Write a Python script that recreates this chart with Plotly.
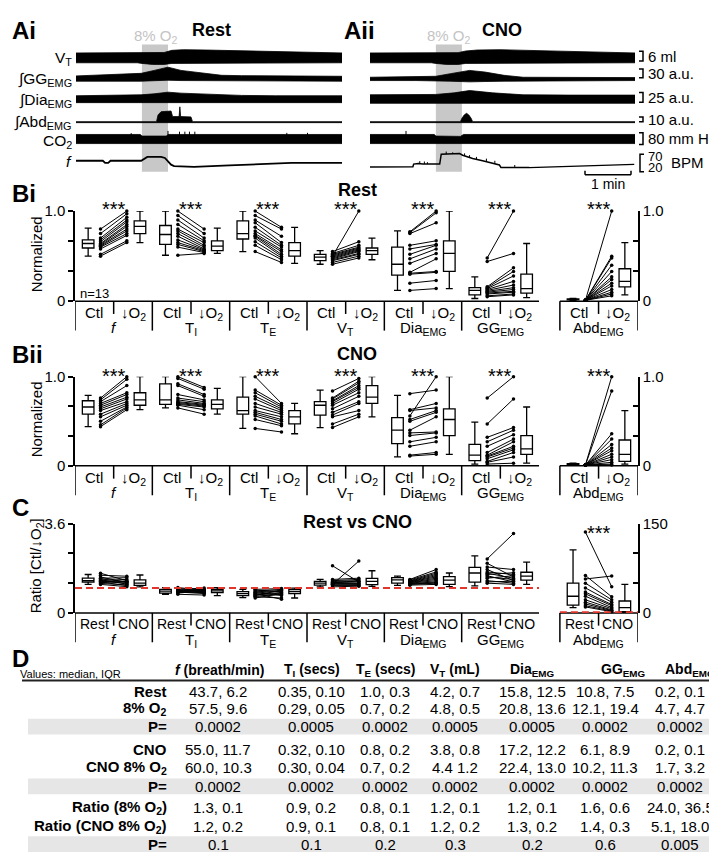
import plotly.graph_objects as go

W, H = 717, 853
FONT = "Liberation Sans, Arial, sans-serif"


def px(x):
    return x / W


def py(y):
    return 1 - y / H


# ---------------- A: example recordings (band envelopes) ----------------
# time in s from the left end of each trace, signal in the units of the scale bars
ai_vt_t = [0, 80, 86, 100, 115, 125, 140, 170, 220, 260, 300, 347]
ai_vt_hi = [3.0, 3.0, 3.0, 3.0, 3.3, 4.6, 5.0, 4.8, 4.2, 3.6, 3.2, 3.0]
ai_vt_lo = [-3.0, -3.0, -3.4, -4.0, -4.0, -3.4, -3.0, -3.0, -3.0, -3.0, -3.0, -3.0]

ai_gg_t = [0, 42, 85, 102, 120, 137, 163, 190, 216, 260, 347]
ai_gg_hi = [8.8, 13.8, 18.8, 30, 42.5, 30, 21.3, 11.3, 10, 8.8, 7.5]
ai_gg_lo = [-11.3, -11.3, -11.3, -8.8, -7.5, -8.8, -10, -11.3, -11.3, -11.3, -11.3]

ai_dia_t = [0, 42, 85, 102, 120, 137, 163, 190, 216, 260, 347]
ai_dia_hi = [8.3, 9.2, 10.8, 13.3, 17.5, 15, 12.5, 10, 9.2, 8.3, 8.3]
ai_dia_lo = [-9.2, -9.2, -9.2, -9.2, -9.2, -9.2, -9.2, -9.2, -9.2, -9.2, -9.2]

ai_abd_t = [0, 105, 107, 111, 124, 126, 134.5, 135.5, 136.5, 150, 152, 347]
ai_abd_hi = [1, 1, 14.7, 21.3, 22.7, 11.3, 11.3, 31.3, 11.3, 10.7, 1, 1]
ai_abd_lo = [-1, -1, -1, -1, -1, -1, -1, -1, -1, -1, -1, -1]

ai_co2_t = [0, 84, 86, 100, 118, 120, 347]
ai_co2_hi = [31, 31, 20, 18, 20, 31, 31]
ai_co2_lo = [-31, -31, -28, -28, -28, -31, -31]
ai_co2_spk_t = [72, 120, 135, 142, 148, 155, 275, 302]
ai_co2_spk_top = [40, 55, 50, 50, 50, 50, 42, 42]

ai_f_t = [0, 35, 38, 42, 45, 85, 93, 105, 111, 116, 124, 128, 154, 200, 281, 347]
ai_f = [44, 44, 38, 38, 44, 44, 55, 56, 55, 52, 33, 29, 27, 31, 38, 38]

aii_vt_t = [0, 80, 86, 100, 115, 125, 140, 170, 200, 260, 300, 346]
aii_vt_hi = [3.0, 3.0, 3.0, 3.0, 3.2, 4.2, 4.8, 5.0, 4.6, 3.8, 3.2, 3.0]
aii_vt_lo = [-3.0, -3.0, -3.4, -4.0, -4.0, -3.4, -3.0, -3.0, -3.0, -3.0, -3.0, -3.0]

aii_gg_t = [0, 60, 86, 105, 130, 150, 175, 200, 260, 346]
aii_gg_hi = [3.8, 5, 7.5, 17.5, 30, 23.8, 11.3, 3.8, 2.5, 2.5]
aii_gg_lo = [-8.8, -8.8, -10, -11.3, -13.8, -12.5, -11.3, -8.8, -8.8, -8.8]

aii_dia_t = [0, 86, 110, 130, 160, 200, 260, 346]
aii_dia_hi = [10.8, 11.7, 15.8, 21.7, 15.8, 10.8, 10, 10]
aii_dia_lo = [-10.8, -10.8, -10.8, -10.8, -10.8, -10.8, -10.8, -10.8]

aii_abd_t = [0, 118, 120, 123, 126, 129, 132, 134, 346]
aii_abd_hi = [1, 1, 8, 14.7, 18, 14.7, 8, 1, 1]
aii_abd_lo = [-1, -1, -1, -1, -1, -1, -1, -1, -1]

aii_co2_t = [0, 84, 86, 100, 118, 122, 346]
aii_co2_hi = [31, 31, 20, 18, 18, 31, 31]
aii_co2_lo = [-31, -31, -30, -30, -30, -31, -31]
aii_co2_spk_t = [47]
aii_co2_spk_top = [55]

aii_f_t = [0, 56, 57, 63, 69, 91, 93, 117, 121, 134, 147, 160, 169, 171, 208, 345]
aii_f = [26.4, 27.3, 34.7, 36.6, 34.7, 34.7, 62.5, 64.4, 59.7, 50.5, 44, 36.6, 32, 24.6, 24.6, 33.8]
aii_f_spk_t = [65, 71, 75, 99.5, 108, 123.5, 130, 139, 152, 163, 189]
aii_f_spk_lo = [36, 35, 35, 63, 63, 58, 52, 47, 41, 35, 24.6]
aii_f_spk_hi = [43, 42, 40, 70, 68, 65, 60, 55, 50, 44, 32]

hypoxia_t = [86, 120]

row_labels = ["V<sub>T</sub>", "\u222bGG<sub>EMG</sub>", "\u222bDia<sub>EMG</sub>",
              "\u222bAbd<sub>EMG</sub>", "CO<sub>2</sub>", "<i>f</i>"]
scale_labels = ["6 ml", "30 a.u.", "25 a.u.", "10 a.u.", "80 mm Hg"]

# ---------------- B / C: normalized values, n = 13 ----------------
groups = ["<i>f</i>", "T<sub>I</sub>", "T<sub>E</sub>", "V<sub>T</sub>",
          "Dia<sub>EMG</sub>", "GG<sub>EMG</sub>", "Abd<sub>EMG</sub>"]

# box stats: lower whisker, q1, median, q3, upper whisker
bi_ctl_box = [[0.50, 0.59, 0.64, 0.68, 0.81], [0.51, 0.63, 0.74, 0.84, 1.0],
              [0.55, 0.69, 0.75, 0.89, 1.0], [0.41, 0.45, 0.49, 0.52, 0.56],
              [0.12, 0.29, 0.41, 0.60, 0.78], [0.03, 0.07, 0.12, 0.15, 0.27],
              [0.01, 0.015, 0.02, 0.025, 0.03]]
bi_o2_box = [[0.65, 0.75, 0.83, 0.89, 1.0], [0.53, 0.56, 0.61, 0.67, 0.81],
             [0.42, 0.50, 0.56, 0.65, 0.82], [0.46, 0.52, 0.56, 0.59, 0.70],
             [0.14, 0.33, 0.53, 0.67, 1.0], [0.04, 0.09, 0.14, 0.30, 0.64],
             [0.07, 0.16, 0.22, 0.36, 0.65]]
bi_ctl_pts = [
    [0.80, 0.75, 0.70, 0.68, 0.66, 0.64, 0.63, 0.62, 0.61, 0.60, 0.58, 0.52, 0.50],
    [1.00, 0.95, 0.90, 0.85, 0.80, 0.78, 0.75, 0.72, 0.68, 0.65, 0.63, 0.60, 0.51],
    [1.00, 0.95, 0.90, 0.87, 0.82, 0.78, 0.75, 0.73, 0.72, 0.70, 0.66, 0.62, 0.55],
    [0.50, 0.55, 0.53, 0.52, 0.51, 0.50, 0.49, 0.48, 0.47, 0.46, 0.45, 0.43, 0.41],
    [0.77, 0.76, 0.75, 0.62, 0.58, 0.52, 0.47, 0.42, 0.32, 0.31, 0.30, 0.20, 0.12],
    [0.48, 0.44, 0.16, 0.15, 0.14, 0.13, 0.12, 0.11, 0.10, 0.09, 0.08, 0.06, 0.05],
    [0.01, 0.01, 0.01, 0.01, 0.01, 0.01, 0.01, 0.01, 0.01, 0.01, 0.01, 0.01, 0.01]]
bi_o2_pts = [
    [1.00, 0.97, 0.93, 0.90, 0.88, 0.85, 0.83, 0.80, 0.78, 0.75, 0.73, 0.67, 0.65],
    [0.80, 0.75, 0.70, 0.67, 0.65, 0.62, 0.60, 0.58, 0.57, 0.56, 0.55, 0.54, 0.53],
    [0.82, 0.80, 0.72, 0.65, 0.62, 0.60, 0.57, 0.55, 0.52, 0.50, 0.48, 0.46, 0.43],
    [1.00, 0.66, 0.62, 0.60, 0.59, 0.58, 0.57, 0.56, 0.55, 0.53, 0.52, 0.50, 0.48],
    [1.00, 0.98, 0.87, 0.67, 0.63, 0.62, 0.58, 0.53, 0.47, 0.33, 0.32, 0.23, 0.14],
    [1.00, 0.53, 0.37, 0.33, 0.28, 0.22, 0.18, 0.15, 0.13, 0.11, 0.10, 0.08, 0.07],
    [1.00, 0.50, 0.48, 0.40, 0.33, 0.27, 0.24, 0.20, 0.17, 0.13, 0.10, 0.08, 0.06]]

bii_ctl_box = [[0.44, 0.58, 0.66, 0.73, 0.79], [0.65, 0.69, 0.74, 0.92, 1.0],
               [0.42, 0.58, 0.62, 0.77, 1.0], [0.43, 0.57, 0.68, 0.72, 0.85],
               [0.10, 0.25, 0.40, 0.54, 0.79], [0.02, 0.06, 0.12, 0.24, 0.49],
               [0.01, 0.015, 0.02, 0.025, 0.03]]
bii_o2_box = [[0.63, 0.68, 0.74, 0.82, 1.0], [0.58, 0.64, 0.69, 0.74, 0.87],
              [0.36, 0.47, 0.55, 0.62, 0.70], [0.55, 0.70, 0.77, 0.90, 1.0],
              [0.13, 0.34, 0.52, 0.64, 1.0], [0.03, 0.13, 0.19, 0.34, 0.66],
              [0.02, 0.05, 0.13, 0.29, 0.62]]
bii_ctl_pts = [
    [0.76, 0.74, 0.72, 0.70, 0.68, 0.66, 0.64, 0.62, 0.58, 0.55, 0.50, 0.46, 0.44],
    [1.00, 0.98, 0.92, 0.90, 0.80, 0.76, 0.74, 0.72, 0.71, 0.70, 0.69, 0.68, 0.65],
    [1.00, 0.85, 0.82, 0.78, 0.75, 0.70, 0.66, 0.62, 0.60, 0.58, 0.56, 0.52, 0.42],
    [0.84, 0.76, 0.75, 0.73, 0.72, 0.70, 0.68, 0.64, 0.60, 0.57, 0.55, 0.47, 0.43],
    [0.81, 0.56, 0.63, 0.62, 0.52, 0.50, 0.40, 0.37, 0.34, 0.27, 0.22, 0.12, 0.11],
    [0.76, 0.47, 0.32, 0.27, 0.22, 0.15, 0.12, 0.11, 0.10, 0.08, 0.05, 0.04, 0.02],
    [0.01, 0.01, 0.01, 0.01, 0.01, 0.01, 0.01, 0.01, 0.01, 0.01, 0.01, 0.01, 0.01]]
bii_o2_pts = [
    [1.00, 0.97, 0.90, 0.82, 0.80, 0.77, 0.75, 0.72, 0.70, 0.68, 0.66, 0.65, 0.63],
    [0.88, 0.86, 0.80, 0.78, 0.74, 0.72, 0.70, 0.69, 0.68, 0.67, 0.66, 0.63, 0.58],
    [0.70, 0.68, 0.66, 0.64, 0.62, 0.60, 0.58, 0.55, 0.52, 0.50, 0.47, 0.45, 0.38],
    [0.98, 0.95, 0.93, 0.90, 0.88, 0.86, 0.82, 0.78, 0.72, 0.70, 0.62, 0.58, 0.55],
    [0.85, 1.00, 0.70, 0.65, 0.62, 0.60, 0.55, 0.38, 0.37, 0.32, 0.27, 0.15, 0.13],
    [1.00, 0.75, 0.43, 0.40, 0.35, 0.30, 0.27, 0.22, 0.20, 0.18, 0.15, 0.10, 0.03],
    [1.00, 0.84, 0.36, 0.30, 0.24, 0.20, 0.17, 0.13, 0.10, 0.07, 0.04, 0.02, 0.01]]

# C: ratio Ctl / low O2 (Abd on its own 0-150 scale)
c_rest_box = [[1.15, 1.24, 1.30, 1.40, 1.55], [0.75, 0.80, 0.88, 0.95, 1.02],
              [0.62, 0.70, 0.78, 0.86, 0.95], [1.05, 1.12, 1.20, 1.27, 1.35],
              [1.11, 1.20, 1.33, 1.42, 1.48], [1.09, 1.24, 1.61, 1.84, 2.30],
              [9, 13, 28, 50, 106]]
c_cno_box = [[1.05, 1.11, 1.20, 1.33, 1.53], [0.70, 0.82, 0.89, 0.95, 1.02],
             [0.60, 0.78, 0.86, 0.94, 1.00], [1.07, 1.14, 1.27, 1.39, 1.70],
             [1.06, 1.15, 1.32, 1.46, 1.61], [1.15, 1.32, 1.48, 1.64, 2.05],
             [1, 2, 9, 20, 48]]
c_rest_pts = [
    [1.60, 1.52, 1.45, 1.40, 1.37, 1.34, 1.31, 1.29, 1.27, 1.25, 1.22, 1.19, 1.15],
    [1.02, 0.98, 0.95, 0.93, 0.91, 0.90, 0.88, 0.87, 0.86, 0.84, 0.82, 0.80, 0.75],
    [0.95, 0.92, 0.88, 0.85, 0.82, 0.80, 0.78, 0.75, 0.72, 0.70, 0.67, 0.65, 0.60],
    [1.90, 1.15, 1.35, 1.30, 1.27, 1.24, 1.22, 1.20, 1.18, 1.16, 1.13, 1.10, 1.05],
    [1.35, 1.33, 1.30, 1.28, 1.26, 1.25, 1.23, 1.22, 1.20, 1.18, 1.16, 1.15, 1.12],
    [2.18, 2.00, 1.85, 1.75, 1.65, 1.60, 1.55, 1.50, 1.45, 1.40, 1.30, 1.25, 1.20],
    [136, 63, 57, 50, 42, 35, 32, 28, 22, 18, 15, 12, 10]]
c_cno_pts = [
    [1.30, 1.48, 1.22, 1.42, 1.26, 1.16, 1.35, 1.19, 1.24, 1.10, 1.28, 1.13, 1.06],
    [0.92, 0.88, 1.00, 0.85, 0.95, 0.80, 0.90, 0.93, 0.82, 0.78, 0.86, 0.89, 0.72],
    [0.98, 0.85, 0.95, 0.90, 0.70, 0.88, 0.55, 0.82, 0.80, 0.92, 0.75, 0.60, 0.78],
    [1.25, 2.09, 1.40, 1.35, 1.30, 1.28, 1.25, 1.20, 1.18, 1.15, 1.12, 1.10, 1.08],
    [1.75, 1.65, 1.60, 1.55, 1.50, 1.45, 1.40, 1.35, 1.30, 1.25, 1.22, 1.20, 1.15],
    [3.20, 1.45, 1.75, 1.30, 1.55, 1.40, 1.62, 1.25, 1.35, 1.50, 1.20, 1.28, 1.15],
    [44, 27, 62, 22, 18, 14, 12, 9, 7, 5, 4, 3, 2]]

bi_stars = [1, 1, 1, 1, 1, 1, 1]
bii_stars = [1, 1, 1, 1, 1, 1, 1]
c_stars = [0, 0, 0, 0, 0, 0, 1]

# ---------------- D: table ----------------
tab_cols = ["<b><i>f</i> (breath/min)</b>", "<b>T<sub>I</sub> (secs)</b>", "<b>T<sub>E</sub> (secs)</b>",
            "<b>V<sub>T</sub> (mL)</b>", "<b>Dia<sub>EMG</sub></b>", "<b>GG<sub>EMG</sub></b>",
            "<b>Abd<sub>EMG</sub></b>"]
tab_rows = ["Rest", "8% O<sub>2</sub>", "P=", "CNO", "CNO 8% O<sub>2</sub>", "P=",
            "Ratio (8% O<sub>2</sub>)", "Ratio (CNO 8% O<sub>2</sub>)", "P="]
tab_vals = [
    ["43.7, 6.2", "0.35, 0.10", "1.0, 0.3", "4.2, 0.7", "15.8, 12.5", "10.8, 7.5", "0.2, 0.1"],
    ["57.5, 9.6", "0.29, 0.05", "0.7, 0.2", "4.8, 0.5", "20.8, 13.6", "12.1, 19.4", "4.7, 4.7"],
    ["0.0002", "0.0005", "0.0002", "0.0005", "0.0005", "0.0002", "0.0002"],
    ["55.0, 11.7", "0.32, 0.10", "0.8, 0.2", "3.8, 0.8", "17.2, 12.2", "6.1, 8.9", "0.2, 0.1"],
    ["60.0, 10.3", "0.30, 0.04", "0.7, 0.2", "4.4 1.2", "22.4, 13.0", "10.2, 11.3", "1.7, 3.2"],
    ["0.0002", "0.0002", "0.0002", "0.0002", "0.0002", "0.0002", "0.0002"],
    ["1.3, 0.1", "0.9, 0.2", "0.8, 0.1", "1.2, 0.1", "1.2, 0.1", "1.6, 0.6", "24.0, 36.5"],
    ["1.2, 0.2", "0.9, 0.1", "0.8, 0.1", "1.2, 0.2", "1.3, 0.2", "1.4, 0.3", "5.1, 18.0"],
    ["0.1", "0.1", "0.2", "0.3", "0.2", "0.6", "0.005"]]

# =====================================================================
fig = go.Figure()
lay = {}
shapes = []
ann = []


def ykey(i):
    return "yaxis" if i == 1 else "yaxis%d" % i


def yref(i):
    return "y" if i == 1 else "y%d" % i


def text(x, y, s, size=16, xanchor="center", color="black", angle=0, xref="paper", yanchor="middle"):
    ann.append(dict(x=x, y=y, xref=xref, yref="paper", text=s, showarrow=False, xanchor=xanchor,
                    yanchor=yanchor, textangle=angle, font=dict(size=size, color=color, family=FONT)))


def pline(x0, y0, x1, y1, width=1.5, color="black", xref="paper", yr="paper", dash=None):
    ln = dict(color=color, width=width)
    if dash:
        ln["dash"] = dash
    shapes.append(dict(type="line", xref=xref, yref=yr, x0=x0, y0=y0, x1=x1, y1=y1, line=ln))


# ---- panel A ----
lay["xaxis"] = dict(domain=[px(68), px(334)], range=[0, 347], visible=False, anchor="y")
lay["xaxis2"] = dict(domain=[px(362), px(627)], range=[0, 346], visible=False, anchor="y7")
row_cy = [41.7, 62.5, 83.7, 107.3, 124.5, 146.7]
row_k = [10 / 6, 8 / 30, 10 / 25, 5 / 10, 12 / 80, 18 / 50]
row_c0 = [0, 0, 0, 0, 0, 44]
label_dy = [1, 1, 1, 0, 2.5, 1]
HH = 20
for p in range(2):
    for r in range(6):
        i = 1 + p * 6 + r
        lay[ykey(i)] = dict(domain=[py(row_cy[r] + HH), py(row_cy[r] - HH)],
                            range=[row_c0[r] - HH / row_k[r], row_c0[r] + HH / row_k[r]],
                            visible=False, anchor=["x", "x2"][p])


def band(t, hi, lo, xa, ya):
    fig.add_trace(go.Scatter(x=t + t[::-1], y=hi + lo[::-1], fill="toself", fillcolor="black",
                             mode="lines", line=dict(color="black", width=0.8),
                             xaxis=xa, yaxis=ya, hoverinfo="skip"))


def spikes(t, lo, hi, xa, ya):
    xs, ys = [], []
    for a, b, c in zip(t, lo, hi):
        xs += [a, a, None]
        ys += [b, c, None]
    fig.add_trace(go.Scatter(x=xs, y=ys, mode="lines", line=dict(color="black", width=1),
                             xaxis=xa, yaxis=ya, hoverinfo="skip"))


ai_bands = [(ai_vt_t, ai_vt_hi, ai_vt_lo), (ai_gg_t, ai_gg_hi, ai_gg_lo), (ai_dia_t, ai_dia_hi, ai_dia_lo),
            (ai_abd_t, ai_abd_hi, ai_abd_lo), (ai_co2_t, ai_co2_hi, ai_co2_lo)]
aii_bands = [(aii_vt_t, aii_vt_hi, aii_vt_lo), (aii_gg_t, aii_gg_hi, aii_gg_lo),
             (aii_dia_t, aii_dia_hi, aii_dia_lo), (aii_abd_t, aii_abd_hi, aii_abd_lo),
             (aii_co2_t, aii_co2_hi, aii_co2_lo)]
for r, (t, hi, lo) in enumerate(ai_bands):
    band(t, hi, lo, "x", yref(1 + r))
for r, (t, hi, lo) in enumerate(aii_bands):
    band(t, hi, lo, "x2", yref(7 + r))
spikes(ai_co2_spk_t, [0] * len(ai_co2_spk_t), ai_co2_spk_top, "x", "y5")
spikes(aii_co2_spk_t, [0] * len(aii_co2_spk_t), aii_co2_spk_top, "x2", "y11")
fig.add_trace(go.Scatter(x=ai_f_t, y=ai_f, mode="lines", line=dict(color="black", width=1.8),
                         xaxis="x", yaxis="y6", hoverinfo="skip"))
fig.add_trace(go.Scatter(x=aii_f_t, y=aii_f, mode="lines", line=dict(color="black", width=1.5),
                         xaxis="x2", yaxis="y12", hoverinfo="skip"))
spikes(aii_f_spk_t, aii_f_spk_lo, aii_f_spk_hi, "x2", "y12")

for xa in ["x", "x2"]:
    shapes.append(dict(type="rect", xref=xa, yref="paper", x0=hypoxia_t[0], x1=hypoxia_t[1],
                       y0=py(158), y1=py(28), fillcolor="#c8c8c8", line=dict(width=0), layer="below"))
text(px(148), py(20), "8% O<sub>2</sub>", size=15, color="#c4c4c4")
text(px(441), py(20), "8% O<sub>2</sub>", size=15, color="#c4c4c4")
text(px(2), py(14), "<b>Ai</b>", size=24, xanchor="left")
text(px(334), py(14), "<b>Aii</b>", size=24, xanchor="left")
text(px(203), py(13), "<b>Rest</b>", size=18)
text(px(494), py(13), "<b>CNO</b>", size=18)
for r, lab in enumerate(row_labels):
    text(px(66), py(row_cy[r] + label_dy[r]), lab, size=15.5, xanchor="right")

# scale bars
bars = [(35, 45), (53, 62), (77, 87), (102, 107), (118, 130)]
for (y0, y1), lab in zip(bars, scale_labels):
    shapes.append(dict(type="path", xref="paper", yref="paper",
                       path="M %f,%f L %f,%f L %f,%f L %f,%f" % (px(631), py(y0), px(635), py(y0),
                                                                 px(635), py(y1), px(631), py(y1)),
                       line=dict(color="black", width=1.5)))
    text(px(638), py((y0 + y1) / 2), lab, size=15, xanchor="left")
shapes.append(dict(type="path", xref="paper", yref="paper",
                   path="M %f,%f L %f,%f L %f,%f L %f,%f" % (px(636), py(140), px(632), py(140),
                                                             px(632), py(158), px(636), py(158)),
                   line=dict(color="black", width=1.5)))
text(px(638), py(142), "70", size=13, xanchor="left")
text(px(638), py(154), "20", size=13, xanchor="left")
text(px(661), py(148), "BPM", size=15, xanchor="left")
pline(px(577), py(161), px(623), py(161))
pline(px(577), py(157), px(577), py(161))
pline(px(623), py(157), px(623), py(161))
text(px(600), py(170), "1 min", size=14)

# ---- panels B and C ----
GX = [0, 1, 2, 3, 4, 5, 6.27]
XR = 7.28
panels = [
    dict(xa="x3", yl=13, yr=14, yb=290, yt=198, rng=[0, 1], rrng=[0, 1],
         ctl=bi_ctl_box, o2=bi_o2_box, cp=bi_ctl_pts, op=bi_o2_pts, stars=bi_stars,
         sub=["Ctl", "\u2193O<sub>2</sub>"], subsize=15, title="Rest", ty=177, sy=196,
         letter="Bi", ly=180, ytitle="Normalized"),
    dict(xa="x4", yl=15, yr=16, yb=458, yt=367, rng=[0, 1], rrng=[0, 1],
         ctl=bii_ctl_box, o2=bii_o2_box, cp=bii_ctl_pts, op=bii_o2_pts, stars=bii_stars,
         sub=["Ctl", "\u2193O<sub>2</sub>"], subsize=15, title="CNO", ty=344, sy=366,
         letter="Bii", ly=344, ytitle="Normalized"),
    dict(xa="x5", yl=17, yr=18, yb=608, yt=517, rng=[0, 3.6], rrng=[0, 150],
         ctl=c_rest_box, o2=c_cno_box, cp=c_rest_pts, op=c_cno_pts, stars=c_stars,
         sub=["Rest", "CNO"], subsize=14, title="Rest vs CNO", ty=515, sy=526,
         letter="C", ly=500, ytitle="Ratio [Ctl/\u2193O<sub>2</sub>]"),
]

for k, P in enumerate(panels):
    xa = P["xa"]
    lay["xaxis%d" % (3 + k)] = dict(domain=[px(67), px(630)], range=[0, XR], visible=False,
                                    anchor=yref(P["yl"]))
    r0, r1 = P["rng"]
    q0, q1 = P["rrng"]
    lay[ykey(P["yl"])] = dict(domain=[py(P["yb"]), py(P["yt"])], range=[r0, r1], anchor=xa,
                              showline=True, linecolor="black", linewidth=1.5, ticks="outside",
                              ticklen=5, tickwidth=1.5, tickcolor="black", showgrid=False,
                              zeroline=False, tickvals=[r0 + (r1 - r0) * j / 3 for j in range(4)],
                              ticktext=["0", "", "", ("%.1f" % r1)],
                              tickfont=dict(size=15, family=FONT, color="black"))
    lay[ykey(P["yr"])] = dict(overlaying=yref(P["yl"]), side="right", range=[q0, q1], anchor=xa,
                              showline=True, linecolor="black", linewidth=1.5, ticks="inside",
                              ticklen=5, tickwidth=1.5, tickcolor="black", showgrid=False,
                              zeroline=False, tickvals=[q0 + (q1 - q0) * j / 3 for j in range(4)],
                              ticktext=["0", "", "", ("1.0" if q1 == 1 else "%d" % q1)],
                              tickfont=dict(size=15, family=FONT, color="black"))

    for side, idx in [(P["yl"], range(6)), (P["yr"], [6])]:
        for stats, off in [(P["ctl"], 0.17), (P["o2"], 0.84)]:
            sel = [stats[i] for i in idx]
            fig.add_trace(go.Box(x=[GX[i] + off for i in idx],
                                 lowerfence=[s[0] for s in sel], q1=[s[1] for s in sel],
                                 median=[s[2] for s in sel], q3=[s[3] for s in sel],
                                 upperfence=[s[4] for s in sel], width=0.15, whiskerwidth=0.6,
                                 fillcolor="white", line=dict(color="black", width=1.3),
                                 boxpoints=False, xaxis=xa, yaxis=yref(side), hoverinfo="skip"))
        xs, ys = [], []
        for i in idx:
            for a, b in zip(P["cp"][i], P["op"][i]):
                xs += [GX[i] + 0.33, GX[i] + 0.67, None]
                ys += [a, b, None]
        fig.add_trace(go.Scatter(x=xs, y=ys, mode="lines+markers", line=dict(color="black", width=1),
                                 marker=dict(color="black", size=3.5), cliponaxis=False,
                                 xaxis=xa, yaxis=yref(side), hoverinfo="skip"))

    yb = P["yb"]
    pline(0, py(yb), 6, py(yb), xref=xa)
    pline(GX[6], py(yb), XR, py(yb), xref=xa)
    for g in GX + [XR]:
        pline(g, py(yb), g, py(yb + 30), xref=xa)
    for i, g in enumerate(GX):
        pline(g + 0.5, py(yb), g + 0.5, py(yb + 13), xref=xa)
        text(g + 0.25, py(yb + 1), P["sub"][0], size=P["subsize"], xref=xa, yanchor="top")
        text(g + 0.75, py(yb + 1), P["sub"][1], size=P["subsize"], xref=xa, yanchor="top")
        text(g + 0.5, py(yb + 16), groups[i], size=15, xref=xa, yanchor="top")
        if P["stars"][i]:
            text(g + 0.5, py(P["sy"]), "***", size=20, xref=xa)
    text(px(349), py(P["ty"]), "<b>%s</b>" % P["title"], size=18)
    text(px(2), py(P["ly"]), "<b>%s</b>" % P["letter"], size=24, xanchor="left")
    text(px(28), py((P["yb"] + P["yt"]) / 2 - 2), P["ytitle"], size=15, angle=-90)

text(px(70), py(282), "n=13", size=13, xanchor="left")
# reference line at ratio 1
pline(0, 1, 6, 1, width=2, color="#e2362c", xref="x5", yr="y17", dash="7px,4px")
pline(GX[6], 1, XR, 1, width=2, color="#e2362c", xref="x5", yr="y18", dash="7px,4px")

# ---- panel D: table ----
text(px(2), py(655), "<b>D</b>", size=24, xanchor="left")
text(px(10), py(670), "Values: median, IQR", size=11, xanchor="left")
head_x = [211, 304, 377, 447, 524, 615, 682]
val_x = [210, 303, 377, 447, 524, 597, 672]
row_y = [688, 706, 724, 747, 766, 785, 807, 826, 844]
for hx, h in zip(head_x, tab_cols):
    text(px(hx), py(666), h, size=14)
pline(px(14), py(677), px(708), py(677), width=2, color="#222")
for yy, lab, vals in zip(row_y, tab_rows, tab_vals):
    if lab == "P=":
        shapes.append(dict(type="rect", xref="paper", yref="paper", x0=px(20), x1=px(708),
                           y0=py(yy + 8), y1=py(yy - 8), fillcolor="#e6e6e6",
                           line=dict(width=0), layer="below"))
    text(px(161), py(yy), "<b>%s</b>" % lab, size=15, xanchor="right")
    for vx, v in zip(val_x, vals):
        text(px(vx), py(yy), v, size=15)

fig.update_layout(width=W, height=H, margin=dict(l=0, r=0, t=0, b=0), paper_bgcolor="white",
                  plot_bgcolor="rgba(0,0,0,0)", showlegend=False, boxmode="overlay",
                  font=dict(family=FONT, color="black"), shapes=shapes, annotations=ann, **lay)
fig.write_html("out.html")
